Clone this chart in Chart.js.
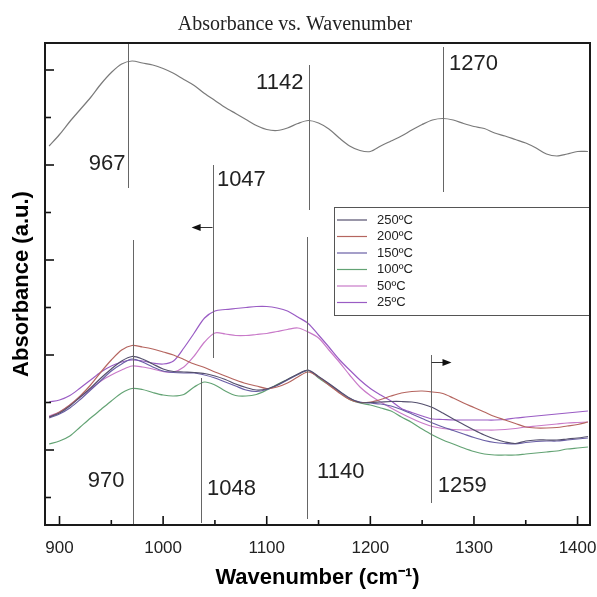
<!DOCTYPE html>
<html>
<head>
<meta charset="utf-8">
<script src="https://cdn.jsdelivr.net/npm/chart.js@4.4.1/dist/chart.umd.min.js"></script>
<style>
  html, body { margin: 0; padding: 0; background: #fff; }
</style>
</head>
<body>
<canvas id="ftirChart" width="597" height="597"></canvas>
<script>
// wavenumber grid (cm-1) the spectra were read at
const WAVENUMBERS = [
  890, 900, 910, 920, 930, 940, 950, 960, 970, 980,
  990, 1000, 1010, 1020, 1030, 1040, 1050, 1060, 1070, 1080,
  1090, 1100, 1110, 1120, 1130, 1140, 1150, 1160, 1170, 1180,
  1190, 1200, 1210, 1220, 1230, 1240, 1250, 1260, 1270, 1280,
  1290, 1300, 1310, 1320, 1330, 1340, 1350, 1360, 1370, 1380,
  1390, 1400, 1410
];

// upper (grey) spectrum
const TOP_SPECTRUM = [
  3.79, 3.905, 4.035, 4.155, 4.275, 4.41, 4.525, 4.61, 4.64, 4.62,
  4.60, 4.565, 4.517, 4.455, 4.395, 4.315, 4.245, 4.175, 4.115, 4.055,
  3.995, 3.955, 3.945, 3.97, 4.015, 4.045, 4.02, 3.96, 3.87, 3.79,
  3.745, 3.735, 3.79, 3.84, 3.89, 3.95, 4.005, 4.05, 4.065, 4.05,
  4.015, 3.985, 3.965, 3.92, 3.89, 3.855, 3.82, 3.77, 3.71, 3.69,
  3.71, 3.735, 3.735
];

const ABS_250 = [
  1.08, 1.12, 1.19, 1.28, 1.37, 1.47, 1.56, 1.64, 1.685, 1.66,
  1.61, 1.56, 1.535, 1.53, 1.525, 1.515, 1.49, 1.455, 1.41, 1.375,
  1.35, 1.36, 1.40, 1.455, 1.51, 1.55, 1.485, 1.415, 1.34, 1.27,
  1.225, 1.225, 1.23, 1.235, 1.235, 1.23, 1.21, 1.175, 1.12, 1.06,
  1.005, 0.95, 0.90, 0.86, 0.83, 0.815, 0.84, 0.85, 0.85, 0.85,
  0.86, 0.87, 0.885
];
const ABS_200 = [
  1.08, 1.13, 1.20, 1.29, 1.40, 1.53, 1.65, 1.75, 1.795, 1.78,
  1.76, 1.73, 1.70, 1.655, 1.61, 1.575, 1.53, 1.49, 1.45, 1.415,
  1.39, 1.365, 1.38, 1.42, 1.48, 1.53, 1.48, 1.40, 1.32, 1.255,
  1.225, 1.23, 1.255, 1.29, 1.32, 1.335, 1.34, 1.33, 1.315, 1.27,
  1.22, 1.175, 1.13, 1.085, 1.05, 1.015, 0.98, 0.97, 0.97, 0.975,
  0.99, 1.005, 1.03
];
const ABS_150 = [
  1.07, 1.11, 1.17, 1.255, 1.35, 1.445, 1.54, 1.61, 1.66, 1.63,
  1.58, 1.54, 1.525, 1.52, 1.52, 1.50, 1.47, 1.43, 1.39, 1.35,
  1.335, 1.355, 1.395, 1.45, 1.505, 1.545, 1.48, 1.41, 1.335, 1.265,
  1.23, 1.22, 1.21, 1.19, 1.155, 1.11, 1.065, 1.02, 0.98, 0.945,
  0.91, 0.875, 0.845, 0.825, 0.815, 0.81, 0.825, 0.835, 0.84, 0.84,
  0.85, 0.86, 0.87
];
const ABS_100 = [
  0.81, 0.84, 0.89, 0.98, 1.07, 1.155, 1.24, 1.32, 1.365, 1.355,
  1.325, 1.30, 1.29, 1.305, 1.38, 1.43, 1.40, 1.34, 1.295, 1.29,
  1.305, 1.35, 1.405, 1.455, 1.505, 1.545, 1.47, 1.40, 1.33, 1.255,
  1.22, 1.20, 1.17, 1.14, 1.08, 1.025, 0.96, 0.90, 0.85, 0.81,
  0.77, 0.735, 0.71, 0.70, 0.70, 0.70, 0.71, 0.72, 0.73, 0.74,
  0.76, 0.77, 0.78
];
const ABS_50 = [
  1.09, 1.13, 1.20, 1.28, 1.36, 1.44, 1.50, 1.55, 1.59, 1.58,
  1.56, 1.535, 1.53, 1.58, 1.69, 1.83, 1.92, 1.91, 1.895, 1.895,
  1.905, 1.915, 1.935, 1.955, 1.97, 1.93, 1.87, 1.75, 1.63, 1.50,
  1.38, 1.295, 1.23, 1.17, 1.115, 1.065, 1.02, 0.985, 0.965, 0.955,
  0.95, 0.95, 0.95, 0.95, 0.955, 0.965, 0.98, 0.99, 1.00, 1.01,
  1.02, 1.025, 1.03
];
const ABS_25 = [
  1.23, 1.25, 1.295, 1.37, 1.45, 1.53, 1.59, 1.63, 1.65, 1.64,
  1.62, 1.61, 1.64, 1.77, 1.92, 2.07, 2.14, 2.155, 2.165, 2.175,
  2.185, 2.185, 2.17, 2.14, 2.08, 2.015, 1.90, 1.78, 1.655, 1.55,
  1.45, 1.365, 1.30, 1.24, 1.165, 1.125, 1.09, 1.06, 1.055, 1.05,
  1.05, 1.05, 1.05, 1.05, 1.055, 1.07, 1.08, 1.09, 1.10, 1.11,
  1.12, 1.13, 1.14
];

const SERIES_LABELS = ["250ºC", "200ºC", "150ºC", "100ºC", "50ºC", "25ºC"];

// axis ticks
const X_TICKS = [900, 1000, 1100, 1200, 1300, 1400];
const X_MINOR = [950, 1050, 1150, 1250, 1350];
const Y_MAJOR = [0.75, 1.7, 2.65, 3.6, 4.55];
const Y_MINOR = [0.275, 1.225, 2.175, 3.125, 4.075];

// peak markers: wavenumber, vertical extent, label
const PEAK_WN = [966.5, 1140.8, 1269.7, 1047.7, 971, 1036.5, 1139.2, 1259];
const PEAK_TOP = [4.82, 4.60, 4.78, 3.60, 2.85, 1.47, 2.88, 1.70];
const PEAK_BOTTOM = [3.37, 3.15, 3.33, 1.67, 0, 0.02, 0.06, 0.22];
const PEAK_TEXT = ["967", "1142", "1270", "1047", "970", "1048", "1140", "1259"];
const PEAK_TEXT_WN = [963.6, 1135.4, 1276, 1051.9, 962.6, 1042.3, 1148.6, 1265];
const PEAK_TEXT_Y = [3.61, 4.425, 4.61, 3.455, 0.44, 0.36, 0.53, 0.39];
const PEAK_TEXT_ALIGN = ["right", "right", "left", "left", "right", "left", "left", "left"];

// arrows: from wn, to wn, level
const ARROW_FROM = [1047.7, 1259];
const ARROW_TO = [1027.5, 1278.3];
const ARROW_Y = [2.98, 1.63];

const points = (arr) => WAVENUMBERS.map((w, i) => ({ x: w, y: arr[i] }));

const colors = ["#55506e", "#b5655f", "#6a5fa6", "#63a374", "#c97ac9", "#9a5cc4"];

const overlay = {
  id: "overlay",
  afterDatasetsDraw(chart) {
    const ctx = chart.ctx;
    const xs = chart.scales.x;
    const ys = chart.scales.y;
    const a = chart.chartArea;
    ctx.save();

    // peak lines
    ctx.strokeStyle = "#666";
    ctx.lineWidth = 1;
    for (let i = 0; i < PEAK_WN.length; i++) {
      const px = Math.round(xs.getPixelForValue(PEAK_WN[i])) + 0.5;
      ctx.beginPath();
      ctx.moveTo(px, ys.getPixelForValue(PEAK_TOP[i]));
      ctx.lineTo(px, ys.getPixelForValue(PEAK_BOTTOM[i]));
      ctx.stroke();
    }

    // peak labels
    ctx.fillStyle = "#222";
    ctx.font = "22px 'Liberation Sans', Arial, sans-serif";
    ctx.textBaseline = "middle";
    for (let i = 0; i < PEAK_TEXT.length; i++) {
      ctx.textAlign = PEAK_TEXT_ALIGN[i];
      ctx.fillText(PEAK_TEXT[i], xs.getPixelForValue(PEAK_TEXT_WN[i]), ys.getPixelForValue(PEAK_TEXT_Y[i]));
    }

    // arrows
    ctx.strokeStyle = "#333";
    ctx.fillStyle = "#111";
    for (let i = 0; i < ARROW_FROM.length; i++) {
      const x0 = xs.getPixelForValue(ARROW_FROM[i]);
      const x1 = xs.getPixelForValue(ARROW_TO[i]);
      const yy = Math.round(ys.getPixelForValue(ARROW_Y[i])) + 0.5;
      const dir = x1 > x0 ? 1 : -1;
      ctx.beginPath();
      ctx.moveTo(x0, yy);
      ctx.lineTo(x1 - dir * 8, yy);
      ctx.stroke();
      ctx.beginPath();
      ctx.moveTo(x1, yy);
      ctx.lineTo(x1 - dir * 9, yy - 3.5);
      ctx.lineTo(x1 - dir * 9, yy + 3.5);
      ctx.closePath();
      ctx.fill();
    }

    // legend box
    const lx = 334, ly = 207, lw = a.right - 334, lh = 108;
    ctx.strokeStyle = "#555";
    ctx.lineWidth = 1;
    ctx.strokeRect(lx + 0.5, ly + 0.5, lw, lh);
    ctx.font = "13px 'Liberation Sans', Arial, sans-serif";
    ctx.textAlign = "left";
    ctx.fillStyle = "#222";
    let row = 0;
    chart.data.datasets.forEach((ds) => {
      if (!ds.inLegend) return;
      const yy = ly + 13 + row * 16.5;
      ctx.strokeStyle = ds.borderColor;
      ctx.lineWidth = 1.2;
      ctx.beginPath();
      ctx.moveTo(lx + 3, yy);
      ctx.lineTo(lx + 33, yy);
      ctx.stroke();
      ctx.fillText(ds.label, lx + 43, yy);
      row++;
    });

    // inward ticks
    ctx.strokeStyle = "#111";
    ctx.lineWidth = 1.6;
    const tick = (x0, y0, x1, y1) => {
      ctx.beginPath();
      ctx.moveTo(x0, y0);
      ctx.lineTo(x1, y1);
      ctx.stroke();
    };
    X_TICKS.forEach((v) => { const p = xs.getPixelForValue(v); tick(p, a.bottom, p, a.bottom - 9); });
    X_MINOR.forEach((v) => { const p = xs.getPixelForValue(v); tick(p, a.bottom, p, a.bottom - 5); });
    Y_MAJOR.forEach((v) => { const p = ys.getPixelForValue(v); tick(a.left, p, a.left + 9, p); });
    Y_MINOR.forEach((v) => { const p = ys.getPixelForValue(v); tick(a.left, p, a.left + 6, p); });

    // frame
    ctx.strokeStyle = "#1a1a1a";
    ctx.lineWidth = 2;
    ctx.strokeRect(a.left, a.top, a.right - a.left, a.bottom - a.top);
    ctx.restore();
  }
};

const ctx = document.getElementById("ftirChart").getContext("2d");
const ftirChart = new Chart(ctx, {
  type: "line",
  data: {
    datasets: [
      { label: SERIES_LABELS[0], data: points(ABS_250), borderColor: colors[0], inLegend: true },
      { label: SERIES_LABELS[1], data: points(ABS_200), borderColor: colors[1], inLegend: true },
      { label: SERIES_LABELS[2], data: points(ABS_150), borderColor: colors[2], inLegend: true },
      { label: SERIES_LABELS[3], data: points(ABS_100), borderColor: colors[3], inLegend: true },
      { label: SERIES_LABELS[4], data: points(ABS_50), borderColor: colors[4], inLegend: true },
      { label: SERIES_LABELS[5], data: points(ABS_25), borderColor: colors[5], inLegend: true },
      { label: "top", data: points(TOP_SPECTRUM), borderColor: "#7a7a7a", inLegend: false },
    ].map((d) => Object.assign(d, { borderWidth: 1.2, pointRadius: 0, fill: false, tension: 0.3 })),
  },
  options: {
    responsive: false,
    animation: false,
    devicePixelRatio: 1,
    layout: { padding: { right: 7 } },
    plugins: {
      legend: { display: false },
      tooltip: { enabled: false },
      title: {
        display: true,
        text: "Absorbance vs. Wavenumber",
        color: "#222",
        font: { family: "'Liberation Serif', 'Times New Roman', serif", size: 20, weight: "normal" },
        padding: { top: 13, bottom: 6 },
      },
    },
    scales: {
      x: {
        type: "linear",
        min: 886,
        max: 1412,
        afterBuildTicks: (s) => { s.ticks = X_TICKS.map((v) => ({ value: v })); },
        afterFit: (s) => { s.height = 72; s.paddingLeft = 0; s.paddingRight = 0; },
        grid: { display: false, drawTicks: false },
        border: { display: false },
        ticks: {
          color: "#222",
          padding: 13,
          maxRotation: 0,
          autoSkip: false,
          callback: (v) => String(v),
          font: { family: "'Liberation Sans', Arial, sans-serif", size: 17 },
        },
        title: {
          display: true,
          text: "Wavenumber (cm⁻¹)",
          color: "#000",
          font: { family: "'Liberation Sans', Arial, sans-serif", size: 22, weight: "bold" },
          padding: { top: 0, bottom: 6 },
        },
      },
      y: {
        min: 0,
        max: 4.82,
        afterBuildTicks: (s) => { s.ticks = Y_MAJOR.map((v) => ({ value: v })); },
        afterFit: (s) => { s.width = 45; s.paddingTop = 0; s.paddingBottom = 0; },
        grid: { display: false, drawTicks: false },
        border: { display: false },
        ticks: { display: false },
        title: {
          display: true,
          text: "Absorbance (a.u.)",
          color: "#000",
          font: { family: "'Liberation Sans', Arial, sans-serif", size: 22, weight: "bold" },
          padding: { top: 9, bottom: 0 },
        },
      },
    },
  },
  plugins: [overlay],
});
</script>
</body>
</html>
